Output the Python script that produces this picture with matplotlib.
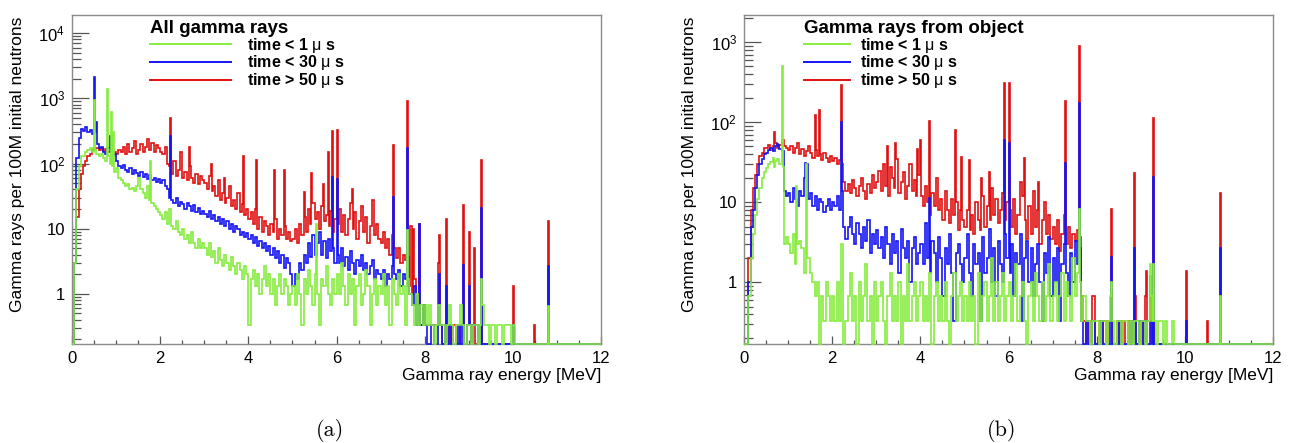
import numpy as np
import matplotlib
matplotlib.use('Agg')
import matplotlib.pyplot as plt
from matplotlib.lines import Line2D
from matplotlib.ticker import MultipleLocator, FixedLocator, LogLocator, NullFormatter

plt.rcParams['font.family'] = ['Liberation Sans', 'DejaVu Sans']
plt.rcParams['mathtext.fontset'] = 'custom'
plt.rcParams['mathtext.rm'] = 'Liberation Sans'
plt.rcParams['mathtext.it'] = 'Liberation Sans:italic'
plt.rcParams['mathtext.bf'] = 'Liberation Sans:bold'

# continuum, 0.05 MeV bins starting at 0 MeV (one row = 1 MeV)
# ---- (a) all gamma rays ----
a_green = [0, 3, 40, 90, 130, 130, 150, 160, 170, 150, 160, 140, 130, 140, 120, 110, 130, 100, 90, 75,
           85, 60, 55, 50, 45, 48, 40, 42, 38, 45, 60, 40, 35, 30, 45, 28, 25, 22, 20, 18,
           16, 14, 18, 12, 20, 11, 10, 13, 9, 8, 10, 7, 8, 6, 9, 6, 5, 7, 5, 6,
           5, 4, 6, 3.7, 4.5, 3, 5, 3.3, 2.7, 4, 3, 2.3, 3.7, 2.7, 2, 3, 2.3, 1.7, 2.7, 2,
           0.33, 1.7, 2.3, 1.3, 2, 1, 1.7, 2.7, 1.3, 2, 1, 1.7, 0.67, 1.3, 2, 1, 1.7, 1.3, 0.67, 1,
           1.3, 0.67, 2, 1, 0.33, 1.7, 1, 2.3, 1.3, 0.67, 2, 1, 0.33, 1.7, 1.3, 2.7, 1, 0.67, 1.7, 1,
           2, 1, 3, 1.3, 0.67, 2, 1, 1.7, 0.33, 1.3, 2, 0.67, 1, 2.3, 1.3, 0.33, 1, 1.7, 0.67, 1.3,
           1, 2, 0.67, 1.3, 0.33, 1.7, 1, 0.67, 2, 1, 1.3, 0.33, 1.7, 1, 0.67, 0.33, 1, 0.33, 0.67, 0.33,
           0.67, 0.33, 0.67, 0.33, 0, 0.33, 0.67, 0.33, 0.33, 0, 0.33, 0.67, 0.33, 0, 0.33, 0.33, 0.67, 0.33, 0, 0.33,
           0.33, 0, 0.33, 0.33, 0, 0.33, 0.67, 0.33, 0.33, 0, 0.33, 0.33, 0, 0.33, 0.33, 0, 0.33, 0.33, 0.33, 0,
           0.33]
a_blue = [0, 3, 120, 250, 340, 320, 360, 300, 330, 280, 300, 200, 170, 180, 150, 140, 170, 150, 130, 140,
          110, 90, 85, 95, 80, 75, 85, 70, 80, 72, 65, 75, 62, 70, 58, 66, 55, 60, 52, 58,
          50, 55, 45, 40, 30, 28, 25, 30, 22, 26, 24, 20, 25, 22, 19, 23, 18, 21, 17, 19,
          17, 15, 19, 14, 16, 13, 15, 12, 14, 11, 13, 10, 12, 9, 11, 10, 8, 9, 7.5, 8.5,
          7, 8, 6, 7.5, 5.5, 6.5, 5, 6, 4.5, 5.5, 4, 5, 3.5, 4.5, 3, 4, 2.5, 3.5, 3, 2,
          1.3, 2, 1.7, 3, 2.3, 4, 3, 6, 3.7, 8, 4, 6, 9, 4, 6.5, 3.5, 7, 4.5, 5, 3,
          4, 3, 5, 2.7, 3.7, 2.3, 4.5, 3, 2, 3.3, 2.7, 4, 2.3, 3, 2, 2.7, 3.3, 1.7, 2.3, 2,
          1.7, 2.3, 1.3, 2, 1.7, 2.7, 2, 1.7, 2.3, 1.3, 2, 1.7, 1.3, 1, 0.67, 1.3, 0.33, 0.67, 0.33, 0.67,
          0.33, 0, 0, 0.33, 0, 0, 0.33, 0.33, 0, 0.33, 0, 0.33, 0, 0, 0, 0.33, 0, 0.33, 0, 0.33,
          0.33, 0, 0.33, 0.33]
a_red = [0, 3, 15, 40, 70, 90, 110, 130, 140, 160, 170, 175, 160, 170, 155, 165, 150, 160, 145, 150,
         140, 160, 150, 180, 140, 200, 150, 170, 220, 140, 160, 200, 150, 180, 240, 160, 210, 150, 190, 170,
         150, 140, 180, 100, 90, 70, 110, 65, 80, 150, 60, 75, 55, 90, 60, 50, 70, 48, 65, 55,
         50, 40, 65, 38, 45, 32, 55, 28, 35, 25, 30, 45, 22, 28, 20, 35, 18, 24, 16, 20,
         14, 18, 12, 20, 10, 15, 9, 13, 11, 8, 12, 9, 14, 7, 10, 8, 11, 7, 9, 6.5,
         7, 10, 6, 12, 8, 15, 9, 20, 12, 25, 14, 18, 10, 22, 13, 16, 11, 19, 9, 14,
         12, 20, 9, 16, 8, 14, 25, 10, 18, 7, 13, 22, 9, 15, 6, 11, 28, 8, 12, 7,
         6, 9, 5, 7, 4, 8, 5, 3.5, 5, 3, 4, 3.3, 3.7, 1.3, 1, 1.7, 0.67, 1, 0.33, 0.67,
         0.33, 0.33, 0.33, 0.33, 0.33, 0.33, 0.67, 0.33, 0, 0.33, 0, 0.33, 0, 0.33, 0, 0, 0.33, 0.33, 0, 0.33,
         0.33, 0, 0.33, 0, 0, 0.33]
# narrow lines: (energy MeV, height)
a_green_lines = [(0.52, 960), (0.82, 1400), (0.89, 610), (0.95, 300), (1.78, 110), (5.53, 12),
                 (7.62, 9.6), (9.28, 1.7), (10.81, 0.66)]
a_blue_lines = [(0.52, 2100), (0.56, 430), (0.85, 260), (2.23, 260), (5.90, 63), (6.01, 57), (7.28, 31),
                (7.62, 170), (7.88, 12), (8.31, 0.67), (8.35, 2), (8.48, 1.3), (8.88, 2.8), (9.01, 1.33),
                (9.28, 21), (10.01, 0.33), (10.81, 2.7)]
a_red_lines = [(2.23, 500), (2.66, 180), (3.16, 100), (3.45, 60), (3.88, 130), (4.19, 115), (4.59, 80),
               (4.81, 80), (5.26, 37), (5.44, 72), (5.72, 48), (5.81, 150), (5.90, 315), (6.01, 330),
               (6.37, 41), (7.28, 190), (7.62, 900), (7.68, 11), (7.74, 10), (7.88, 12), (8.31, 3),
               (8.35, 8), (8.48, 14), (8.88, 23), (9.01, 9), (9.14, 5), (9.28, 115), (10.01, 1.33),
               (10.49, 0.33), (10.81, 13)]

# ---- (b) gamma rays from object ----
b_green = [0, 0, 0.67, 2, 4, 7, 11, 15, 20, 24, 27, 30, 32, 28, 33, 35, 30, 28, 3, 3.7,
           3, 2.3, 4, 1.7, 3, 3.3, 2.7, 1.3, 2, 2, 1.3, 1, 0.67, 1, 0, 0.67, 0.33, 1, 0.67, 0.33,
           0.67, 0.33, 1, 0.33, 3, 0, 0.33, 0.67, 1.3, 0.33, 0.67, 0, 1, 0.33, 0.67, 1.7, 0.33, 0.67, 0, 1,
           0.33, 0.67, 1, 0.33, 0, 0.67, 1.3, 0.33, 0.67, 0.33, 1, 0, 0.67, 0.33, 1.7, 0.33, 0.67, 1, 0.33, 0.67,
           1, 0.33, 0.67, 0.33, 1.3, 0, 0.67, 1, 0.33, 0.67, 0.33, 1, 0.33, 0, 0.67, 1.3, 0.33, 0.67, 1, 0.33,
           0.67, 0.33, 1, 0.33, 0.67, 0, 1.3, 0.33, 0.67, 1, 0.33, 0.67, 2, 0.33, 1, 0.33, 0.67, 1.3, 0.33, 0.67,
           1, 0.33, 0.67, 1.7, 0.33, 0.67, 1, 0.33, 0, 0.67, 1, 0.33, 1.3, 0.67, 0.33, 1, 0.33, 0.67, 1.7, 0.33,
           0.67, 1, 0.33, 0.67, 1.3, 0.33, 1, 0.67, 0.33, 2, 0.67, 1.3, 1, 0.33, 0.67, 0.33, 0.33, 0, 0.33, 0.33,
           0.33, 0, 0.33, 0.33, 0, 0.33, 0.67, 0.33, 0, 0.33, 0.33, 0, 0.33, 0.33, 0, 0.33, 0, 0.33, 0.33, 0,
           0.33, 0.33, 0, 0.33, 0.67, 0.33, 0.33, 0, 0.33, 0.33, 0, 0.33, 0, 0, 0.33]
b_blue = [0, 0, 1, 5, 8, 15, 22, 30, 35, 40, 42, 45, 48, 44, 50, 52, 46, 44, 14, 12,
          13, 10, 15, 11, 9, 14, 12, 20, 30, 11, 13, 9, 12, 8, 11, 10, 7.5, 9, 11, 8,
          10, 9, 12, 8, 14, 5, 3.5, 5, 6.5, 4, 3, 5.5, 4, 2.7, 5, 3.3, 6, 2.3, 4, 3,
          4.5, 2.7, 3.7, 2, 5, 3, 1.7, 4, 2.3, 3.3, 1.3, 4.7, 2.7, 2, 3.3, 1, 2.7, 3.7, 1.7, 2.3,
          3, 1.7, 5.5, 2, 1.3, 3.3, 2.3, 1, 3.7, 2, 0.67, 2.7, 1.7, 4, 1.3, 0.33, 2.3, 3, 1.7, 1,
          2, 4, 1.3, 0.67, 3, 1.7, 2.3, 0.33, 3.7, 1.3, 2, 4.7, 1, 2.7, 0.67, 3.3, 1.7, 1, 4, 2,
          1.3, 3, 0.67, 2.3, 1.7, 4, 0.33, 2, 3.3, 1, 2.7, 0.67, 1.7, 3, 1, 0.33, 2.3, 1.3, 3.7, 0.67,
          2, 1, 2.7, 0.33, 1.7, 3, 1.3, 0.67, 2.3, 1, 3.3, 1.7, 2.7, 0.33, 0, 0.33, 0, 0, 0.33, 0,
          0, 0, 0.33, 0, 0, 0, 0.33, 0, 0, 0, 0.33, 0, 0, 0, 0, 0.33, 0, 0.33, 0, 0.33,
          0.33, 0, 0.33, 0, 0.33]
b_red = [0, 0, 2, 8, 15, 22, 30, 38, 42, 48, 48, 52, 45, 50, 55, 48, 52, 60, 50, 48,
         45, 50, 42, 48, 55, 40, 46, 38, 44, 50, 42, 36, 45, 38, 40, 34, 42, 36, 32, 38,
         33, 36, 30, 34, 30, 18, 14, 17, 13, 19, 15, 12, 16, 20, 14, 11, 17, 13, 22, 15,
         18, 25, 14, 30, 16, 12, 28, 20, 15, 35, 13, 18, 24, 11, 16, 30, 14, 19, 12, 22,
         12, 9, 16, 10, 7, 13, 9, 20, 8, 11, 6, 14, 8, 5.5, 11, 7, 10, 4.5, 8, 6,
         5, 8, 4.5, 7, 4, 10, 6, 4.5, 12, 5, 9, 6, 15, 7, 11, 5.5, 8, 13, 6, 10,
         8, 5, 11, 4, 7, 18, 12, 6, 3.5, 9, 4, 14, 5, 8, 3, 6, 10, 4, 7, 3.5,
         5, 3, 6, 2.5, 4, 7, 3, 5, 2.7, 4, 3.3, 4.5, 3.7, 0.67, 0.33, 0, 0.33, 0, 0.67, 0,
         0, 0.33, 0, 0.33, 0, 0.33, 0.33, 0, 0, 0.33, 0, 0, 0.33, 0, 0.33, 0, 0.33, 0.67, 0, 0.33,
         0, 0.33, 0.67, 0.33]
b_green_lines = [(0.66, 36), (0.86, 500), (1.2, 16), (1.42, 30), (7.61, 8.2), (8.34, 1.0), (9.22, 1.7),
                 (9.29, 1.7), (10.82, 0.67)]
b_blue_lines = [(0.75, 53), (1.4, 31), (2.22, 100), (4.2, 11.5), (5.90, 61), (6.01, 56), (7.28, 31.5),
                (7.61, 175), (8.34, 2.05), (8.87, 2.7), (9.29, 20.5), (10.03, 0.33), (10.82, 2.7)]
b_red_lines = [(0.70, 75), (0.86, 61), (1.61, 125), (1.72, 145), (2.22, 290), (3.27, 50), (3.43, 56),
               (3.93, 46), (4.0, 61), (4.2, 105), (4.79, 80), (4.94, 37), (5.12, 34), (5.38, 20),
               (5.57, 24), (5.90, 315), (6.01, 315), (6.37, 36), (6.69, 18), (7.28, 186), (7.61, 890),
               (7.92, 0.67), (8.34, 8.2), (8.87, 23.5), (9.13, 1.4), (9.22, 1.2), (9.29, 115),
               (10.03, 1.4), (10.5, 0.33), (10.82, 13)]

labels = [r'time < 1 $\mathrm{\mu}$ s', r'time < 30 $\mathrm{\mu}$ s', r'time > 50 $\mathrm{\mu}$ s']
green, blue, red = '#86ec3e', '#1414f5', '#e01010'

NB = 480
edges = np.linspace(0, 12, NB + 1)
wfine = 12.0 / NB


def build(cont, lines):
    h = np.zeros(NB)
    c = np.repeat(np.asarray(cont, float), 2)
    h[:len(c)] = c
    for e, v in lines:
        i = int(e / wfine)
        h[i] = max(h[i], v)
    return h


def panel(ax, data, ylim, yt, ylab, title, hlen, tpad, anchor):
    floor = ylim[0]
    for (cont, lines), col, z in zip(data, (red, blue, green), (2, 3, 4)):
        h = build(cont, lines)
        ax.stairs(np.where(h > 0, h, floor), edges, baseline=None, color=col, lw=1.2, zorder=z,
                  clip_on=False)
    ax.set_yscale('log')
    ax.set_xlim(0, 12)
    ax.set_ylim(ylim)
    ax.xaxis.set_major_locator(MultipleLocator(2))
    ax.xaxis.set_minor_locator(MultipleLocator(0.5))
    ax.yaxis.set_major_locator(FixedLocator(yt))
    ax.set_yticklabels(ylab)
    ax.yaxis.set_minor_locator(LogLocator(base=10, subs=np.arange(2, 10)))
    ax.yaxis.set_minor_formatter(NullFormatter())
    ax.tick_params(axis='x', which='major', direction='in', length=6, width=0.9, pad=5,
                   labelsize=12, color='#555555')
    ax.tick_params(axis='x', which='minor', direction='in', length=3, width=0.9, color='#555555')
    ax.tick_params(axis='y', which='major', direction='in', length=12, width=0.9, pad=5,
                   labelsize=12, color='#555555')
    ax.tick_params(axis='y', which='minor', direction='in', length=6.5, width=0.9, color='#555555')
    for s in ax.spines.values():
        s.set_color('#8a8a8a')
        s.set_linewidth(1.0)
    ax.set_xlabel('Gamma ray energy [MeV]', fontsize=12.5, loc='right')
    ax.xaxis.set_label_coords(1.0, -0.072)
    ax.xaxis.label.set_va('top')
    ax.set_ylabel('Gamma rays per 100M initial neutrons', fontsize=12.5)
    ax.yaxis.set_label_coords(-0.089, 0.545)
    handles = [Line2D([], [], color=c, lw=1.4) for c in (green, blue, red)]
    ax.legend(handles, labels, loc='upper left', bbox_to_anchor=anchor, frameon=False,
              title=title, title_fontproperties={'weight': 'bold', 'size': 13.5},
              prop={'weight': 'bold', 'size': 11.5}, handlelength=hlen, handletextpad=tpad,
              labelspacing=-0.08, borderpad=0, borderaxespad=0, alignment='left')


fig = plt.figure(figsize=(12.96, 4.43), dpi=100)
axa = fig.add_axes([0.0556, 0.2235, 0.4082, 0.7426])
axb = fig.add_axes([0.5741, 0.2235, 0.4082, 0.7426])

panel(axa, [(a_red, a_red_lines), (a_blue, a_blue_lines), (a_green, a_green_lines)],
      (0.17, 1.9e4), [1, 10, 100, 1000, 10000], ['1', '10', r'$10^{2}$', r'$10^{3}$', r'$10^{4}$'],
      'All gamma rays', 5.1, 1.0, (0.147, 0.985))
panel(axb, [(b_red, b_red_lines), (b_blue, b_blue_lines), (b_green, b_green_lines)],
      (0.17, 2.2e3), [1, 10, 100, 1000], ['1', '10', r'$10^{2}$', r'$10^{3}$'],
      'Gamma rays from object', 2.9, 0.6, (0.113, 0.985))

fig.text(0.2546, 0.029, '(a)', fontfamily='cmr10', fontsize=16, ha='center', va='center')
fig.text(0.7725, 0.029, '(b)', fontfamily='cmr10', fontsize=16, ha='center', va='center')

fig.savefig('out.png', dpi=100)
